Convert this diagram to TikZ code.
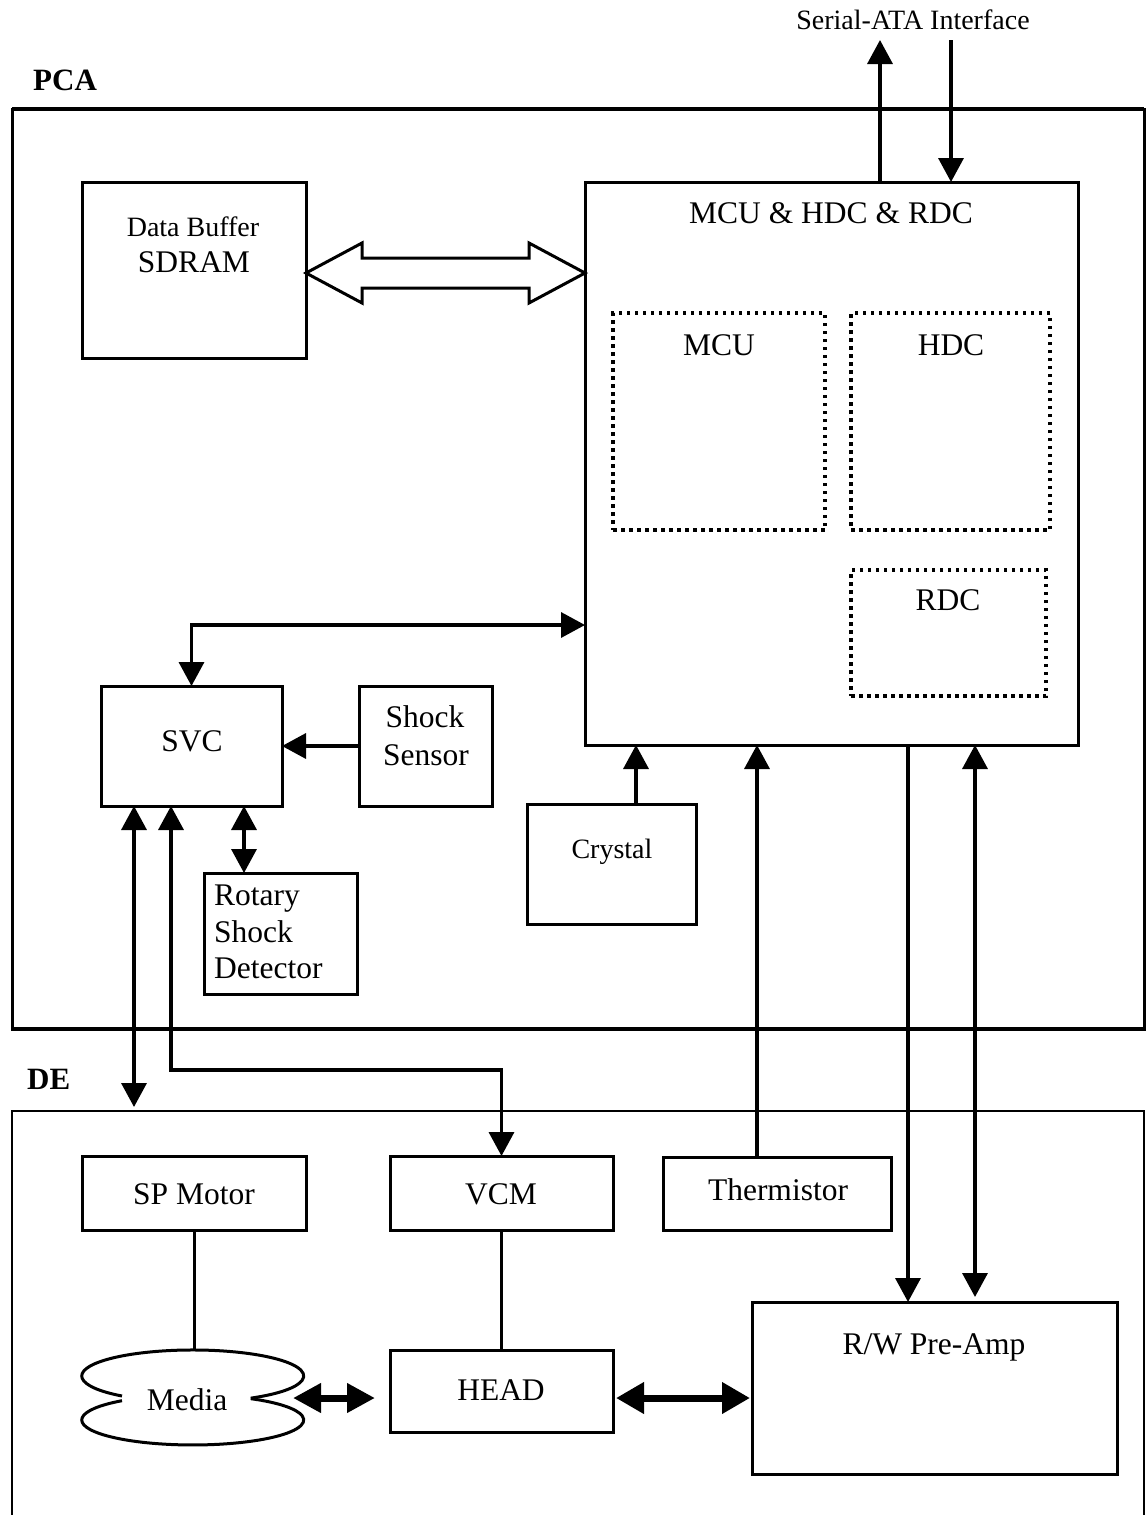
\documentclass[tikz,border=0pt]{standalone}
\usepackage{fontspec}
\setmainfont{Liberation Serif}
\usetikzlibrary{arrows.meta}
\begin{document}
\begin{tikzpicture}[x=1pt,y=-1pt,
  box/.style={draw, line width=3pt, inner sep=0pt, outer sep=0pt, anchor=north west},
  dotbox/.style={draw, line width=3.5pt, dash pattern=on 3.5pt off 4.5pt, inner sep=0pt, outer sep=0pt, anchor=north west},
  conn/.style={line width=3.5pt},
  thickconn/.style={line width=7pt},
  lbl/.style={inner sep=0pt, anchor=base, font=\fontsize{31.5}{36}\selectfont},
  slbl/.style={inner sep=0pt, anchor=base, font=\fontsize{28}{32}\selectfont},
  blbl/.style={inner sep=0pt, anchor=base west, font=\fontsize{31}{36}\selectfont\bfseries},
  >={Triangle[length=24pt,width=25pt]}
]
\useasboundingbox (0,0) rectangle (1146,1515);

% outer boards
\draw[line width=3pt] (12,109) rectangle (1144,1029);
\draw[line width=4.5pt] (12,109) -- (1144,109);
\draw[line width=4.5pt] (12,1029) -- (1144,1029);
\draw[line width=2.5pt] (12,1515) -- (12,1111) -- (1144,1111) -- (1144,1515);
\node[blbl] (pcalbl) at (33,90) {PCA};
\node[blbl] (delbl) at (27,1089) {DE};
\node[slbl] (satalbl) at (913,29) {Serial-ATA Interface};

% boxes
\node[box, minimum width=224pt, minimum height=176pt] (sdram) at (82,182) {};
\node[box, minimum width=493pt, minimum height=563pt] (mcubig) at (585,182) {};
\node[dotbox, minimum width=212pt, minimum height=217pt] (mcu) at (613,313) {};
\node[dotbox, minimum width=199pt, minimum height=217pt] (hdc) at (851,313) {};
\node[dotbox, minimum width=195pt, minimum height=126pt] (rdc) at (851,570) {};
\node[box, minimum width=181pt, minimum height=120pt] (svc) at (101,686) {};
\node[box, minimum width=133pt, minimum height=120pt] (shock) at (359,686) {};
\node[box, minimum width=153pt, minimum height=121pt] (rsd) at (204,873) {};
\node[box, minimum width=169pt, minimum height=120pt] (crystal) at (527,804) {};
\node[box, minimum width=224pt, minimum height=74pt] (spm) at (82,1156) {};
\node[box, minimum width=223pt, minimum height=74pt] (vcm) at (390,1156) {};
\node[box, minimum width=228pt, minimum height=73pt] (therm) at (663,1157) {};
\node[box, minimum width=223pt, minimum height=82pt] (head) at (390,1350) {};
\node[box, minimum width=365pt, minimum height=172pt] (preamp) at (752,1302) {};

% labels
\node[slbl] (l1) at (193,236) {Data Buffer};
\node[lbl] (l2) at (194,272) {SDRAM};
\node[lbl] (l3) at (831,223) {MCU \& HDC \& RDC};
\node[lbl] (l4) at (719,355) {MCU};
\node[lbl] (l5) at (951,355) {HDC};
\node[lbl] (l6) at (948,610) {RDC};
\node[lbl] (l7) at (192,751) {SVC};
\node[lbl] (l8) at (425,727) {Shock};
\node[lbl] (l9) at (426,765) {Sensor};
\node[lbl, anchor=base west] (l10) at (214,905) {Rotary};
\node[lbl, anchor=base west] (l11) at (214,942) {Shock};
\node[lbl, anchor=base west] (l12) at (214,978) {Detector};
\node[slbl] (l13) at (612,858) {Crystal};
\node[lbl] (l14) at (194,1204) {SP Motor};
\node[lbl] (l15) at (501,1204) {VCM};
\node[lbl] (l16) at (778,1200) {Thermistor};
\node[lbl] (l17) at (501,1400) {HEAD};
\node[lbl] (l18) at (934,1354) {R/W Pre-Amp};
\node[lbl] (media) at (187,1410) {Media};

% media shape
\draw[line width=3pt] (122,1396) arc[start angle=129.6, end angle=418.5, x radius=111, y radius=26];
\draw[line width=3pt] (122,1400.7) arc[start angle=230.4, end angle=-58.5, x radius=111, y radius=25];

% coordinates
\coordinate (sataup) at (880,40);
\coordinate (satadn) at (951,40);
\coordinate (svcy) at (0,625);
\coordinate (rsdx) at (244,0);
\coordinate (crx) at (636,0);
\coordinate (thx) at (757,0);
\coordinate (pax) at (908,0);
\coordinate (pbx) at (975,1297);
\coordinate (detop) at (134,1107);
\coordinate (vx) at (171,1070);
\coordinate (mediatop) at (194,1351);
\coordinate (medr) at (293,1398);
\coordinate (headl) at (375,1398);
\coordinate (hpy) at (0,1398);

% connectors
\draw[conn,->] (sataup |- mcubig.north) -- (sataup);
\draw[conn,->] (satadn) -- (satadn |- mcubig.north);
\draw[line width=3pt, fill=white]
  (sdram.east |- 0,273) -- (362,243) -- (362,258) -- (529,258) -- (529,243) -- (mcubig.west |- 0,273)
  -- (529,303) -- (529,288) -- (362,288) -- (362,303) -- cycle;
\draw[conn,<->] (svc.north) |- (mcubig.west |- svcy);
\draw[conn,->] (shock.west) -- (svc.east);
\draw[conn,<->] (svc.south -| rsdx) -- (rsd.north -| rsdx);
\draw[conn,->] (crystal.north -| crx) -- (mcubig.south -| crx);
\draw[conn,->] (therm.north -| thx) -- (mcubig.south -| thx);
\draw[conn,->] (mcubig.south -| pax) -- (preamp.north -| pax);
\draw[conn,<->] (mcubig.south -| pbx) -- (pbx);
\draw[conn,<->] (svc.south -| detop) -- (detop);
\draw[conn,<->] (svc.south -| vx) -- (vx) -- (vx -| vcm.north) -- (vcm.north);
\draw[line width=3pt] (spm.south) -- (mediatop);
\draw[line width=3pt] (vcm.south) -- (head.north);
\draw[thickconn, {Triangle[length=28pt,width=28pt]}-{Triangle[length=28pt,width=28pt]}] (medr) -- (headl);
\draw[thickconn, {Triangle[length=28pt,width=30pt]}-{Triangle[length=28pt,width=30pt]}] ([xshift=3pt]head.east |- hpy) -- ([xshift=-2pt]preamp.west |- hpy);
\end{tikzpicture}
\end{document}
